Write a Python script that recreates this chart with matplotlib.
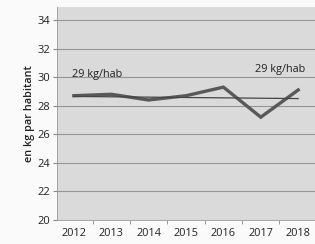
import matplotlib
matplotlib.use('Agg')
import matplotlib.pyplot as plt
import numpy as np

plt.rcParams['font.family'] = ['Open Sans', 'DejaVu Sans']

# données
years = [2012, 2013, 2014, 2015, 2016, 2017, 2018]
conso = [28.7, 28.8, 28.4, 28.7, 29.3, 27.2, 29.1]
trend = [28.65, 28.5]
yticks = [20, 22, 24, 26, 28, 30, 32, 34]

fig = plt.figure(figsize=(3.15, 2.44), dpi=100)
fig.patch.set_facecolor('#fafafa')
ax = fig.add_axes([0.181, 0.098, 0.819, 0.873])
ax.set_facecolor('#dadada')

ax.plot(years, conso, color='#595959', linewidth=2.4, solid_joinstyle='miter', zorder=3)
ax.plot([years[0], years[-1]], trend, color='#444444', linewidth=0.9, zorder=4)

ax.set_xlim(2011.55, 2018.45)
ax.set_ylim(20, 34.9)
ax.set_yticks(yticks)
ax.set_xticks(years)
ax.set_xticks([y + 0.5 for y in years[:-1]], minor=True)
ax.tick_params(axis='x', which='major', length=0, labelsize=7.8, pad=6, colors='#222222')
ax.tick_params(axis='x', which='minor', length=3, color='#888888')
ax.tick_params(axis='y', length=3, labelsize=8, color='#888888', labelcolor='#222222', pad=2)
ax.grid(axis='y', color='#959595', linewidth=0.8)
ax.set_axisbelow(True)

for s in ['top', 'right']:
    ax.spines[s].set_visible(False)
ax.spines['left'].set_color('#999999')
ax.spines['bottom'].set_color('#999999')
ax.spines['left'].set_linewidth(0.6)
ax.spines['bottom'].set_linewidth(0.6)

ax.set_ylabel('en kg par habitant', fontsize=7.8, fontweight='semibold', color='#222222', labelpad=2)

ax.text(2011.95, 30.2, '29 kg/hab', fontsize=7.8, color='#222222', ha='left', va='center')
ax.text(2018.2, 30.5, '29 kg/hab', fontsize=7.8, color='#222222', ha='right', va='center')

fig.savefig('out.png', dpi=100, facecolor=fig.get_facecolor())
